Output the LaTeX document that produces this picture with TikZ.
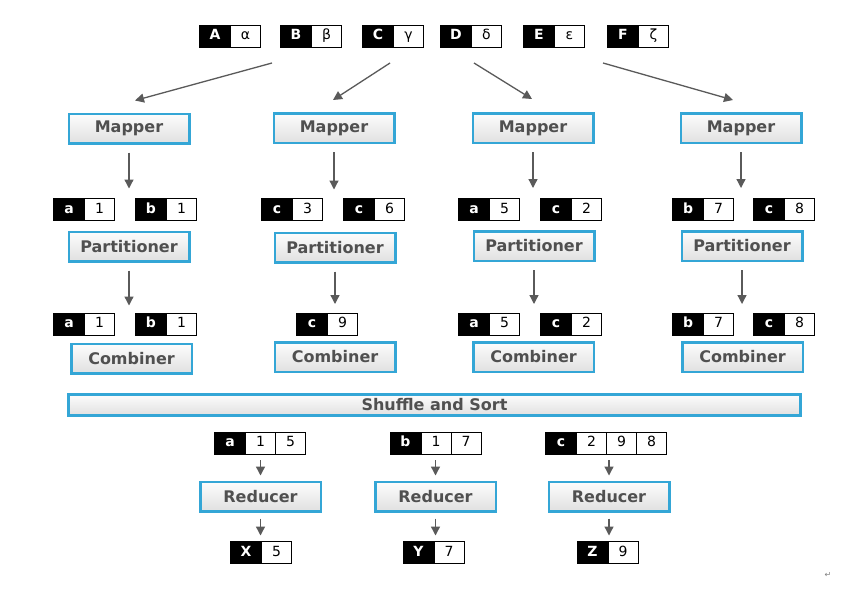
\documentclass[tikz,border=0pt]{standalone}
\usepackage{fontspec}
\setmainfont{DejaVu Sans}
\usepackage{tikz}
\usetikzlibrary{positioning, arrows.meta}
\definecolor{stageblue}{RGB}{52,166,214}
\definecolor{labelgray}{RGB}{80,80,80}
\definecolor{arrowgray}{RGB}{90,90,90}
\tikzstyle{stage} = [rectangle, draw=stageblue, line width=2.5pt, top color=gray!2, bottom color=gray!24, text=labelgray, font=\fontsize{16}{19}\selectfont\bfseries, minimum width=120.5pt, minimum height=29.5pt, inner sep=1pt]
\tikzstyle{arrow} = [line width=1.3pt, draw=arrowgray, -{Triangle[length=9pt,width=9pt]}]

\begin{document}
\begin{tikzpicture}[x=1pt, y=-1pt,
keynode/.style={rectangle, draw=black, fill=black, text=white, font=\fontsize{14}{16}\selectfont\bfseries, minimum width=31pt, minimum height=22pt, text height=10pt, text depth=2.5pt, inner sep=0pt, outer sep=0pt, line width=1pt},
valnode/.style={rectangle, draw=black, fill=white, font=\fontsize{14}{16}\selectfont, minimum width=30pt, minimum height=22pt, text height=10pt, text depth=2.5pt, inner sep=0pt, outer sep=0pt, line width=1pt}
]
\fill[white] (0,0) rectangle (858,592);
\useasboundingbox (0,0) rectangle (858,592);

% input pairs
\node[keynode] (kA) at (215,36) {A};
\node[valnode] (vA) [right=0pt of kA] {α};
\node[keynode] (kB) at (296,36) {B};
\node[valnode] (vB) [right=0pt of kB] {β};
\node[keynode] (kC) at (378,36) {C};
\node[valnode] (vC) [right=0pt of kC] {γ};
\node[keynode] (kD) at (456,36) {D};
\node[valnode] (vD) [right=0pt of kD] {δ};
\node[keynode] (kE) at (539,36) {E};
\node[valnode] (vE) [right=0pt of kE] {ε};
\node[keynode] (kF) at (623,36) {F};
\node[valnode] (vF) [right=0pt of kF] {ζ};

% mappers
\node[stage] (M1) at (129,128.5) {Mapper};
\node[stage] (M2) at (334,128) {Mapper};
\node[stage] (M3) at (533,128) {Mapper};
\node[stage] (M4) at (741,128) {Mapper};

\coordinate (s1) at (272,63);
\coordinate (s2) at (390,63);
\coordinate (s3) at (474,63);
\coordinate (s4) at (603,63);
\draw[arrow] (s1) -- ([xshift=6pt,yshift=12pt]M1.north);
\draw[arrow] (s2) -- ([xshift=-1pt,yshift=12pt]M2.north);
\draw[arrow] (s3) -- ([xshift=-1pt,yshift=13pt]M3.north);
\draw[arrow] (s4) -- ([xshift=-8pt,yshift=12pt]M4.north);

% map output
\node[keynode] (ma1) at (69,209.5) {a};
\node[valnode] (ma1v) [right=0pt of ma1] {1};
\node[keynode] (mb1) at (151,209.5) {b};
\node[valnode] (mb1v) [right=0pt of mb1] {1};
\node[keynode] (mc3) at (277,209.5) {c};
\node[valnode] (mc3v) [right=0pt of mc3] {3};
\node[keynode] (mc6) at (359,209.5) {c};
\node[valnode] (mc6v) [right=0pt of mc6] {6};
\node[keynode] (ma5) at (474,209.5) {a};
\node[valnode] (ma5v) [right=0pt of ma5] {5};
\node[keynode] (mc2) at (556,209.5) {c};
\node[valnode] (mc2v) [right=0pt of mc2] {2};
\node[keynode] (mb7) at (688,209.5) {b};
\node[valnode] (mb7v) [right=0pt of mb7] {7};
\node[keynode] (mc8) at (769,209.5) {c};
\node[valnode] (mc8v) [right=0pt of mc8] {8};

% partitioners
\node[stage] (P1) at (129,246.5) {Partitioner};
\node[stage] (P2) at (335,247.5) {Partitioner};
\node[stage] (P3) at (534,246) {Partitioner};
\node[stage] (P4) at (742,246) {Partitioner};
\draw[arrow, shorten <=8pt, shorten >=42pt] (M1.south) -- (M1.south |- P1.north);
\draw[arrow, shorten <=8pt, shorten >=42pt] (M2.south) -- (M2.south |- P2.north);
\draw[arrow, shorten <=8pt, shorten >=42pt] (M3.south) -- (M3.south |- P3.north);
\draw[arrow, shorten <=8pt, shorten >=42pt] (M4.south) -- (M4.south |- P4.north);

% partition output
\node[keynode] (pa1) at (69,324) {a};
\node[valnode] (pa1v) [right=0pt of pa1] {1};
\node[keynode] (pb1) at (151,324) {b};
\node[valnode] (pb1v) [right=0pt of pb1] {1};
\node[keynode] (pc9) at (312,324) {c};
\node[valnode] (pc9v) [right=0pt of pc9] {9};
\node[keynode] (pa5) at (474,324) {a};
\node[valnode] (pa5v) [right=0pt of pa5] {5};
\node[keynode] (pc2) at (556,324) {c};
\node[valnode] (pc2v) [right=0pt of pc2] {2};
\node[keynode] (pb7) at (688,324) {b};
\node[valnode] (pb7v) [right=0pt of pb7] {7};
\node[keynode] (pc8) at (769,324) {c};
\node[valnode] (pc8v) [right=0pt of pc8] {8};

% combiners
\node[stage] (C1) at (131.5,358.5) {Combiner};
\node[stage] (C2) at (335,357) {Combiner};
\node[stage] (C3) at (533.5,357) {Combiner};
\node[stage] (C4) at (742.5,357) {Combiner};
\draw[arrow, shorten <=8pt, shorten >=37pt] (P1.south) -- (P1.south |- C1.north);
\draw[arrow, shorten <=8pt, shorten >=37pt] (P2.south) -- (P2.south |- C2.north);
\draw[arrow, shorten <=8pt, shorten >=37pt] (P3.south) -- (P3.south |- C3.north);
\draw[arrow, shorten <=8pt, shorten >=37pt] (P4.south) -- (P4.south |- C4.north);

\node[stage, minimum width=732pt, minimum height=21pt] (S) at (434.5,405) {Shuffle and Sort};

% reduce input
\node[keynode] (ra) at (230,443) {a};
\node[valnode] (ra1) [right=0pt of ra] {1};
\node[valnode] (ra2) [right=0pt of ra1] {5};
\node[keynode] (rb) at (405.5,443) {b};
\node[valnode] (rb1) [right=0pt of rb] {1};
\node[valnode] (rb2) [right=0pt of rb1] {7};
\node[keynode] (rc) at (561,443) {c};
\node[valnode] (rc1) [right=0pt of rc] {2};
\node[valnode] (rc2) [right=0pt of rc1] {9};
\node[valnode] (rc3) [right=0pt of rc2] {8};

% reducers
\node[stage] (R1) at (260.5,496.5) {Reducer};
\node[stage] (R2) at (435.5,496.5) {Reducer};
\node[stage] (R3) at (609,496.5) {Reducer};
\draw[arrow, shorten <=6pt, shorten >=5pt] (R1.north |- ra.south) -- (R1.north);
\draw[arrow, shorten <=6pt, shorten >=5pt] (R2.north |- rb.south) -- (R2.north);
\draw[arrow, shorten <=6pt, shorten >=5pt] (R3.north |- rc.south) -- (R3.north);

% results
\node[keynode] (oX) at (246,552.5) {X};
\node[valnode] (oXv) [right=0pt of oX] {5};
\node[keynode] (oY) at (418.5,552.5) {Y};
\node[valnode] (oYv) [right=0pt of oY] {7};
\node[keynode] (oZ) at (592.5,552.5) {Z};
\node[valnode] (oZv) [right=0pt of oZ] {9};
\draw[arrow, shorten <=6pt, shorten >=6pt] (R1.south) -- (R1.south |- oX.north);
\draw[arrow, shorten <=6pt, shorten >=6pt] (R2.south) -- (R2.south |- oY.north);
\draw[arrow, shorten <=6pt, shorten >=6pt] (R3.south) -- (R3.south |- oZ.north);

\node[text=gray, font=\fontsize{8}{8}\selectfont] (ret) at (828,575) {↵};
\end{tikzpicture}
\end{document}
